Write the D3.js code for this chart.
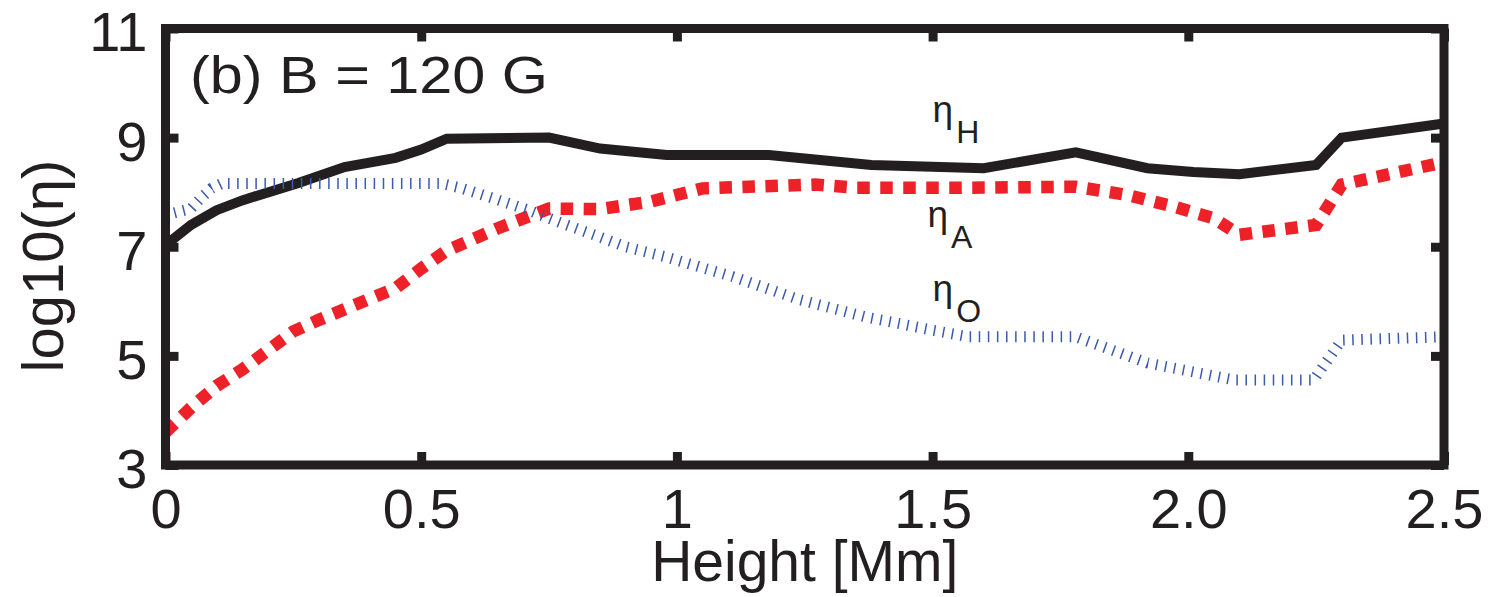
<!DOCTYPE html>
<html>
<head>
<meta charset="utf-8">
<script src="https://cdn.jsdelivr.net/npm/d3@7"></script>
<style>
body { margin: 0; background: #fff; }
svg { display: block; font-family: "Liberation Sans", Arial, Helvetica, sans-serif; }
.axis path.domain { display: none; }
.axis line { stroke: #231f20; stroke-width: 9; }
.axis text { fill: #231f20; font-size: 56px; }
</style>
</head>
<body>
<div id="chart"></div>
<script>
/*
Data: log10 of the diffusivities against height
*/
const heightH = [0, 0.05, 0.1, 0.15, 0.26, 0.35, 0.45, 0.5, 0.55, 0.75, 0.85, 0.98, 1.18, 1.38, 1.6, 1.78, 1.92, 2.01, 2.1, 2.25, 2.3, 2.5];
const etaH = [7.03, 7.4, 7.67, 7.85, 8.17, 8.46, 8.63, 8.78, 8.98, 9.0, 8.8, 8.68, 8.68, 8.5, 8.44, 8.73, 8.44, 8.37, 8.33, 8.5, 9.0, 9.26];

const heightA = [0, 0.05, 0.1, 0.15, 0.2, 0.25, 0.3, 0.45, 0.5, 0.55, 0.65, 0.75, 0.85, 0.95, 1.05, 1.27, 1.35, 1.55, 1.78, 1.88, 1.97, 2.05, 2.1, 2.25, 2.3, 2.5];
const etaA = [3.6, 4.05, 4.45, 4.75, 5.1, 5.45, 5.66, 6.24, 6.6, 6.93, 7.34, 7.7, 7.69, 7.83, 8.07, 8.14, 8.08, 8.08, 8.1, 7.95, 7.74, 7.52, 7.22, 7.4, 8.14, 8.55];

const heightO = [0, 0.05, 0.07, 0.09, 0.11, 0.54, 0.58, 0.64, 0.71, 0.77, 0.84, 0.9, 0.98, 1.11, 1.24, 1.37, 1.5, 1.57, 1.78, 1.92, 2.09, 2.245, 2.3, 2.5];
const etaO = [7.58, 7.7, 7.9, 8.07, 8.16, 8.16, 8.07, 7.89, 7.67, 7.45, 7.21, 7.0, 6.81, 6.45, 6.03, 5.71, 5.47, 5.35, 5.35, 4.87, 4.56, 4.56, 5.29, 5.35];

const xTicks = [0, 0.5, 1, 1.5, 2, 2.5];
const xTickLabels = ["0", "0.5", "1", "1.5", "2.0", "2.5"];
const yTicks = [3, 5, 7, 9, 11];
const yTickLabels = ["3", "5", "7", "9", "11"];

// curve labels: [main, subscript, height, log value]
const curveLabels = [
    ["η", "H", 1.5, 9.29],
    ["η", "A", 1.49, 7.36],
    ["η", "O", 1.5, 6.0]
];

/*
Layout
*/
const width = 1489, height = 597;
const plotLeft = 165.5, plotRight = 1444, plotTop = 28.5, plotBottom = 465;
const ink = "#231f20";

const x = d3.scaleLinear().domain([0, 2.5]).range([plotLeft, plotRight]);
const y = d3.scaleLinear().domain([3, 11]).range([plotBottom, plotTop]);

const svg = d3.select("#chart").append("svg")
    .attr("width", width)
    .attr("height", height);

/*
Curves
*/
function series(hs, vs) {
    return hs.map((h, i) => [h, vs[i]]);
}

const line = d3.line().x(d => x(d[0])).y(d => y(d[1]));

const g_lines = svg.append("g").attr("fill", "none");

g_lines.append("path")
    .datum(series(heightH, etaH))
    .attr("d", line)
    .attr("stroke", ink)
    .attr("stroke-width", 10);

g_lines.append("path")
    .datum(series(heightA, etaA))
    .attr("d", line)
    .attr("stroke", "#ee2128")
    .attr("stroke-width", 12.5)
    .attr("stroke-dasharray", "12.5,10.5");

g_lines.append("path")
    .datum(series(heightO, etaO))
    .attr("d", line)
    .attr("stroke", "#3a5aab")
    .attr("stroke-width", 11)
    .attr("stroke-dasharray", "1.5,7.6");

/*
Axes (ticks point inward on all four sides)
*/
svg.append("g").attr("class", "axis")
    .attr("transform", `translate(0,${plotBottom})`)
    .call(d3.axisBottom(x).tickValues(xTicks)
        .tickFormat((d, i) => xTickLabels[i])
        .tickSize(-13).tickPadding(23));

svg.append("g").attr("class", "axis")
    .attr("transform", `translate(0,${plotTop})`)
    .call(d3.axisTop(x).tickValues(xTicks).tickFormat("").tickSize(-13));

svg.append("g").attr("class", "axis y-left")
    .attr("transform", `translate(${plotLeft},0)`)
    .call(d3.axisLeft(y).tickValues(yTicks)
        .tickFormat((d, i) => yTickLabels[i])
        .tickSize(-13).tickPadding(18));

svg.append("g").attr("class", "axis")
    .attr("transform", `translate(${plotRight},0)`)
    .call(d3.axisRight(y).tickValues(yTicks).tickFormat("").tickSize(-13));

svg.selectAll(".axis").attr("font-family", null).attr("font-size", null);
svg.selectAll(".y-left text").attr("dy", "0.4em");

// frame
svg.append("rect")
    .attr("x", plotLeft).attr("y", plotTop)
    .attr("width", plotRight - plotLeft).attr("height", plotBottom - plotTop)
    .attr("fill", "none")
    .attr("stroke", ink)
    .attr("stroke-width", 9);

/*
Titles and labels
*/
svg.append("text")
    .attr("x", (plotLeft + plotRight) / 2)
    .attr("y", 581)
    .attr("text-anchor", "middle")
    .attr("font-size", 57)
    .attr("fill", ink)
    .text("Height [Mm]");

svg.append("text")
    .attr("transform", "translate(63,266) rotate(-90)")
    .attr("text-anchor", "middle")
    .attr("font-size", 58)
    .attr("fill", ink)
    .text("log10(η)");

svg.append("text")
    .attr("x", 190)
    .attr("y", 93)
    .attr("font-size", 51)
    .attr("fill", ink)
    .attr("textLength", 358)
    .attr("lengthAdjust", "spacingAndGlyphs")
    .text("(b) B = 120 G");

const lbl = svg.append("g").selectAll("text")
    .data(curveLabels)
    .enter()
    .append("text")
    .attr("x", d => x(d[2]))
    .attr("y", d => y(d[3]))
    .attr("fill", ink);

lbl.append("tspan")
    .attr("font-size", 37)
    .text(d => d[0]);

lbl.append("tspan")
    .attr("font-size", 32)
    .attr("dx", 3)
    .attr("dy", 21)
    .text(d => d[1]);
</script>
</body>
</html>
